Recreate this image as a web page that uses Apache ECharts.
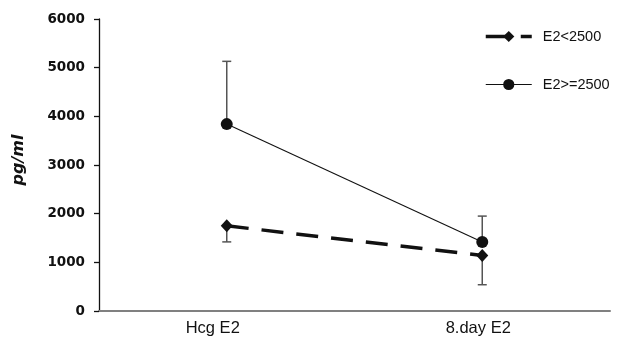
<!DOCTYPE html>
<html><head><meta charset="utf-8">
<script src="https://cdn.jsdelivr.net/npm/echarts@6/dist/echarts.min.js"></script>
<style>html,body{margin:0;padding:0;background:#fff}#c{width:622px;height:339px}</style>
</head><body><div id="c"></div>
<script>
const categories = ['Hcg E2', '8.day E2'];
const lowMeans = [1750, 1140];
const lowErrLow = [1420, 540];
const highMeans = [3840, 1420];
const highErrHigh = [5130, 1950];
const yTicks = [0, 1000, 2000, 3000, 4000, 5000, 6000];

const chart = echarts.init(document.getElementById('c'));
const F = 'DejaVu Sans, sans-serif';
const L = 'Liberation Sans, Arial, sans-serif';
function errSeries(name, means, ends) {
  return {
    type: 'custom', name: name, silent: true, z: 1,
    data: means.map((m, i) => [i, m, ends[i]]),
    renderItem: function (params, api) {
      const a = api.coord([api.value(0), api.value(1)]);
      const b = api.coord([api.value(0), api.value(2)]);
      const st = {stroke: '#555', lineWidth: 1.5};
      return {type: 'group', children: [
        {type: 'line', shape: {x1: a[0], y1: a[1], x2: b[0], y2: b[1]}, style: st},
        {type: 'line', shape: {x1: b[0] - 4.5, y1: b[1], x2: b[0] + 4.5, y2: b[1]}, style: st}
      ]};
    }
  };
}
const catText = {fontFamily: L, fontSize: 16.5, color: '#111'};
chart.setOption({
  animation: false,
  grid: {left: 99, right: 12, top: 19, bottom: 28},
  legend: {
    left: 484, top: 29, padding: 0, orient: 'vertical', itemGap: 33, itemWidth: 46, itemHeight: 14,
    textStyle: {fontFamily: L, fontSize: 14.5, color: '#111', padding: [0, 0, 0, 6]},
    data: [
      {name: 'E2<2500', lineStyle: {width: 3.5}},
      {name: 'E2>=2500', lineStyle: {width: 1.1}}
    ]
  },
  xAxis: {
    type: 'category', data: categories, boundaryGap: true,
    axisLine: {lineStyle: {color: '#808080', width: 2}},
    axisTick: {show: false},
    axisLabel: {margin: 9,
      formatter: (v, i) => (i === 0 ? '{a|' : '{b|') + v + '}',
      rich: {
        a: Object.assign({padding: [0, 28, 0, 0]}, catText),
        b: Object.assign({padding: [0, 8, 0, 0]}, catText)
      }
    }
  },
  yAxis: {
    type: 'value', min: 0, max: 6000, interval: 1000,
    name: 'pg/ml', nameLocation: 'middle', nameGap: 72, nameRotate: 90,
    nameTextStyle: {fontFamily: F, fontSize: 16, fontWeight: 'bold', fontStyle: 'italic', color: '#111', padding: [0, 0, 0, 10]},
    axisLine: {show: true, lineStyle: {color: '#111', width: 1.3}},
    axisTick: {show: true, inside: false, length: 5, lineStyle: {color: '#111', width: 1.3}},
    splitLine: {show: false},
    axisLabel: {fontFamily: F, fontSize: 13.5, fontWeight: 'bold', color: '#111', margin: 14,
      formatter: v => yTicks.includes(v) ? String(v) : ''}
  },
  series: [
    errSeries('errLow', lowMeans, lowErrLow),
    errSeries('errHigh', highMeans, highErrHigh),
    {
      name: 'E2<2500', type: 'line', data: lowMeans, z: 3,
      symbol: 'diamond', symbolSize: [12, 13],
      lineStyle: {color: '#111', width: 3.5, type: [22, 13]},
      itemStyle: {color: '#111'}
    },
    {
      name: 'E2>=2500', type: 'line', data: highMeans, z: 3,
      symbol: 'circle', symbolSize: 12,
      lineStyle: {color: '#111', width: 1.1},
      itemStyle: {color: '#111'}
    }
  ]
});
</script></body></html>
